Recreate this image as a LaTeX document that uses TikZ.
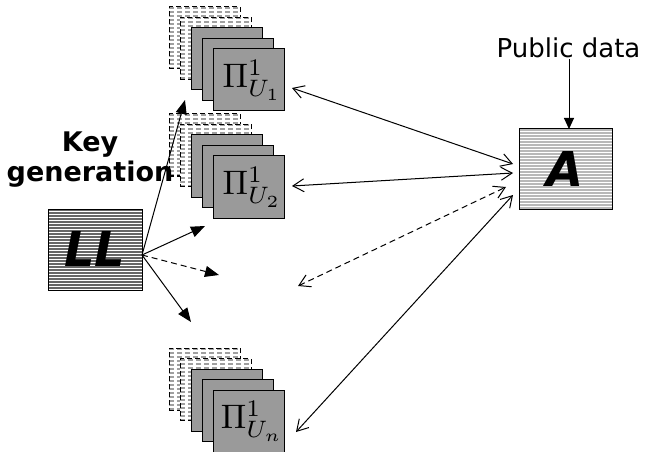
\documentclass[tikz,border=0pt]{standalone}
\usepackage{fontspec}
\newfontfamily\dvsans{DejaVu Sans}
\usetikzlibrary{arrows.meta}
\definecolor{boxgray}{HTML}{9A9A9A}
\definecolor{llstripe}{HTML}{666666}
\definecolor{astripe}{HTML}{B8B8B8}
\definecolor{dstripe}{HTML}{A0A0A0}
\tikzset{
  stripes/.style n args={3}{path picture={
    \foreach \k in {0,#1,...,100}{
      \draw[line width=#2, draw=#3]
        ([yshift=-\k-1]path picture bounding box.north west) --
        ([yshift=-\k-1]path picture bounding box.north east);}}},
  dbox/.style={anchor=north west, minimum width=71pt, minimum height=62pt,
    inner sep=0pt, outer sep=0pt, fill=white, draw=black, line width=1pt,
    dash pattern=on 5pt off 3pt, stripes={4}{2pt}{dstripe}},
  gbox/.style={anchor=north west, minimum width=71pt, minimum height=62pt,
    inner sep=0pt, outer sep=0pt, fill=boxgray, draw=black, line width=1pt},
  bigbox/.style={inner sep=0pt, outer sep=0pt, draw=black, line width=1pt, fill=white,
    font=\dvsans\bfseries\itshape\fontsize{48}{50}\selectfont},
  keyarrow/.style={line width=1pt, -{Triangle[length=14pt,width=11pt]}},
  dblarrow/.style={line width=1pt, {Straight Barb[length=11pt,width=13pt]}-{Straight Barb[length=11pt,width=13pt]}},
}
\newcommand\pistack[3]{%
  \node[dbox] (#2a) at (169,{7+#1}) {};
  \node[dbox] (#2b) at (180,{17.5+#1}) {};
  \node[gbox] (#2c) at (191,{28+#1}) {};
  \node[gbox] (#2d) at (202,{38.5+#1}) {};
  \node[gbox] (#2) at (213,{49+#1}) {\hspace*{7pt}\scalebox{3.4}{$\Pi^{1}_{U_{#3}}$}};
}
\begin{document}
\begin{tikzpicture}[x=1pt,y=-1pt]
\fill[white] (0,0) rectangle (649,452);
\useasboundingbox (0,0) rectangle (649,452);

\pistack{0}{p1}{1}
\pistack{107}{p2}{2}
\pistack{341}{pn}{n}

\node[bigbox, minimum width=94pt, minimum height=81pt, stripes={3}{1.3pt}{llstripe}] (LL) at (95,249.5) {LL};
\node[bigbox, minimum width=93pt, minimum height=80pt, stripes={3}{1.1pt}{astripe}] (A) at (565.5,169) {A};

\node[font=\dvsans\bfseries\fontsize{27}{30}\selectfont, align=center] (kg) at (90,160) {Key\\generation};
\node[font=\dvsans\fontsize{26}{28}\selectfont, anchor=base] (pub) at (568.5,58) {Public data};

\coordinate (k1) at (185,100);
\coordinate (k2) at (205,226);
\coordinate (k3) at (219,275);
\coordinate (k4) at (191,322);
\coordinate (src) at (142,255);
\draw[keyarrow] (src) -- (k1);
\draw[keyarrow] (src) -- (k2);
\draw[keyarrow, dashed, dash pattern=on 6pt off 4pt] (src) -- (k3);
\draw[keyarrow] (src) -- (k4);

\coordinate (u1) at (292,88);
\coordinate (u2) at (292,186);
\coordinate (u3) at (298,286);
\coordinate (un) at (296,432);
\coordinate (a1) at (513,164);
\coordinate (a2) at (513,173);
\coordinate (a3) at (506,187);
\coordinate (a4) at (513,195);
\draw[dblarrow] (u1) -- (a1);
\draw[dblarrow] (u2) -- (a2);
\draw[dblarrow, dash pattern=on 6pt off 4pt] (u3) -- (a3);
\draw[dblarrow] (un) -- (a4);

\coordinate (pd) at (569,59);
\draw[line width=1pt, -{Triangle[length=11pt,width=10pt]}] (pd) -- (pd |- A.north);
\end{tikzpicture}
\end{document}
